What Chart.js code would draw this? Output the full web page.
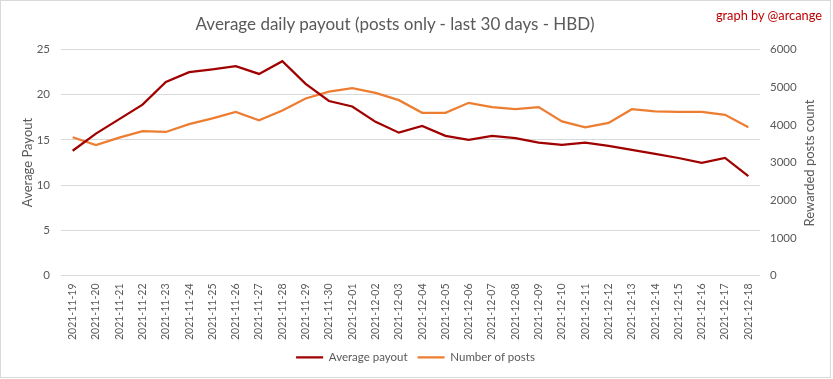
<!DOCTYPE html>
<html>
<head>
<meta charset="utf-8">
<script src="https://cdn.jsdelivr.net/npm/chart.js@4/dist/chart.umd.min.js"></script>
<style>
    body { margin: 0; background: #fff; }
    .chart-box {
        position: relative;
        width: 829px;
        height: 376px;
        border: 1px solid #d9d9d9;
        font-family: Lato, sans-serif;
    }
    .chart-title {
        position: absolute;
        left: 0;
        width: 788px;
        top: 12px;
        text-align: center;
        font-size: 17px;
        line-height: 22px;
        color: #595959;
    }
    .chart-credit {
        position: absolute;
        right: 8px;
        top: 6px;
        font-size: 12.8px;
        line-height: 16px;
        color: #c00000;
    }
    .right-title {
        position: absolute;
        left: 708px;
        top: 153px;
        width: 200px;
        line-height: 18px;
        text-align: center;
        font-size: 13px;
        color: #595959;
        transform: rotate(-90deg);
    }
</style>
</head>
<body>
<div class="chart-box">
    <canvas id="payoutChart" width="829" height="376"></canvas>
    <div class="chart-title">Average daily payout (posts only - last 30 days - HBD)</div>
    <div class="chart-credit">graph by @arcange</div>
    <div class="right-title">Rewarded posts count</div>
</div>
<script>
    const dayLabels = [
        '2021-11-19', '2021-11-20', '2021-11-21', '2021-11-22', '2021-11-23', '2021-11-24',
        '2021-11-25', '2021-11-26', '2021-11-27', '2021-11-28', '2021-11-29', '2021-11-30',
        '2021-12-01', '2021-12-02', '2021-12-03', '2021-12-04', '2021-12-05', '2021-12-06',
        '2021-12-07', '2021-12-08', '2021-12-09', '2021-12-10', '2021-12-11', '2021-12-12',
        '2021-12-13', '2021-12-14', '2021-12-15', '2021-12-16', '2021-12-17', '2021-12-18'
    ];

    const avgPayout = [
        13.8, 15.7, 17.3, 18.9, 21.4, 22.5, 22.8, 23.15, 22.3, 23.7,
        21.2, 19.3, 18.7, 17.0, 15.8, 16.55, 15.45, 15.0, 15.45, 15.2,
        14.7, 14.45, 14.7, 14.35, 13.9, 13.45, 13.0, 12.45, 13.0, 11.0
    ];

    const postCount = [
        3670, 3460, 3660, 3830, 3810, 4020, 4170, 4340, 4120, 4380,
        4700, 4880, 4975, 4850, 4655, 4320, 4320, 4585, 4470, 4415,
        4470, 4090, 3935, 4050, 4415, 4360, 4345, 4345, 4265, 3935
    ];

    const textColor = '#595959';
    const gridColor = '#d9d9d9';

    const ctx = document.getElementById('payoutChart').getContext('2d');

    new Chart(ctx, {
        type: 'line',
        data: {
            labels: dayLabels,
            datasets: [{
                label: 'Average payout',
                data: avgPayout,
                borderColor: '#a00000',
                backgroundColor: '#a00000',
                borderWidth: 2.25,
                pointRadius: 0,
                tension: 0,
                yAxisID: 'y'
            }, {
                label: 'Number of posts',
                data: postCount,
                borderColor: '#ed7d31',
                backgroundColor: '#ed7d31',
                borderWidth: 2.25,
                pointRadius: 0,
                tension: 0,
                yAxisID: 'y1'
            }]
        },
        options: {
            responsive: false,
            animation: false,
            layout: { padding: { left: 10, right: 10, top: 48.5, bottom: 4 } },
            plugins: {
                title: { display: false },
                tooltip: { enabled: false },
                legend: {
                    position: 'bottom',
                    labels: {
                        color: textColor,
                        font: { family: 'Lato', size: 11.5 },
                        usePointStyle: true,
                        pointStyle: 'line',
                        pointStyleWidth: 27,
                        padding: 10
                    }
                }
            },
            scales: {
                x: {
                    offset: true,
                    grid: { display: false, drawTicks: false },
                    border: { display: false },
                    ticks: {
                        color: textColor,
                        font: { family: 'Lato', size: 10.5 },
                        minRotation: 90,
                        maxRotation: 90,
                        autoSkip: false,
                        padding: 8
                    },
                    afterFit: scale => { scale.height = 66; }
                },
                y: {
                    position: 'left',
                    min: 0,
                    max: 25,
                    grid: { color: gridColor, drawTicks: false },
                    border: { display: false },
                    ticks: {
                        stepSize: 5,
                        color: textColor,
                        font: { family: 'Lato', size: 11.5 },
                        padding: 11
                    },
                    title: {
                        display: true,
                        text: 'Average Payout',
                        color: textColor,
                        font: { family: 'Lato', size: 13 },
                        padding: { top: 9, bottom: 0 }
                    },
                    afterFit: scale => { scale.width = 50; }
                },
                y1: {
                    position: 'right',
                    min: 0,
                    max: 6000,
                    grid: { display: false, drawTicks: false },
                    border: { display: false },
                    ticks: {
                        stepSize: 1000,
                        color: textColor,
                        font: { family: 'Lato', size: 11.5 },
                        padding: 10,
                        callback: value => String(value)
                    },
                    afterFit: scale => { scale.width = 60; }
                }
            }
        }
    });
</script>
</body>
</html>
